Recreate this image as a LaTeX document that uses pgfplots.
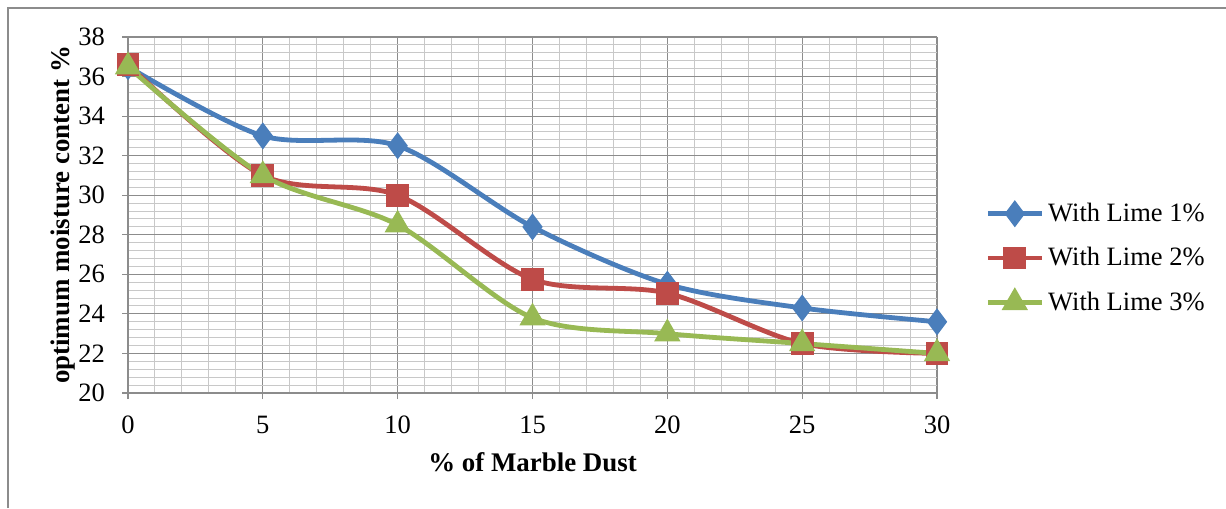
\documentclass[border=0pt]{standalone}
\usepackage{pgfplots}
\pgfplotsset{compat=1.18}
\usepackage{fontspec}
\setmainfont{Liberation Serif}
\definecolor{c1}{HTML}{4A7EBB}
\definecolor{c2}{HTML}{BE4B48}
\definecolor{c3}{HTML}{98B954}
\definecolor{majg}{HTML}{8C8C8C}
\definecolor{ming}{HTML}{C8C8C8}
\begin{document}
\begin{tikzpicture}[x=1bp,y=1bp]
\useasboundingbox (0,0) rectangle (613,254);
\draw[majg,line width=0.6bp] (4,0) -- (4,250) -- (613,250);
\begin{axis}[
  at={(64bp,57.5bp)}, anchor=origin,
  scale only axis, width=404.5bp, height=178bp,
  xmin=0, xmax=30, ymin=20, ymax=38,
  xtick={0,5,...,30}, ytick={20,22,...,38},
  minor xtick={0,1,...,30}, minor ytick={20,20.4,...,38},
  grid=both,
  major grid style={majg,line width=0.6bp},
  minor grid style={ming,line width=0.5bp},
  axis x line=bottom, axis y line=left,
  axis line style={majg,line width=0.6bp,-},
  tick align=outside, major tick length=3bp, minor tick length=0pt,
  tick style={majg,line width=0.6bp},
  /pgf/number format/assume math mode=true,
  ticklabel style={font=\fontsize{13.3}{15}\selectfont},
  yticklabel style={xshift=-5bp},
  xticklabel style={yshift=-5bp},
  xlabel={\textbf{\% of Marble Dust}},
  ylabel={\textbf{optimum moisture content \%}},
  label style={font=\fontsize{13.5}{15}\selectfont},
  xlabel style={yshift=-2.5bp},
  ylabel style={yshift=-5bp},
  legend style={at={(1,0.379)}, anchor=west, xshift=24bp, draw=none, fill=none,
    font=\fontsize{13.3}{15}\selectfont, row sep=7.5bp, inner sep=0pt,
    /tikz/every even column/.append style={column sep=0pt}},
  legend cell align=left,
  legend image code/.code={\draw[#1,mark repeat=2,mark phase=2] plot coordinates {(0bp,0bp) (13.5bp,0bp) (27bp,0bp)};},
  every axis plot/.append style={line width=2.4bp, smooth},
]
\addplot[c1, mark=diamond*, mark size=4.8bp, mark options={solid}] coordinates {
(0,36.5) (5,33.0) (10,32.5) (15,28.4) (20,25.5) (25,24.3) (30,23.6)};
\addlegendentry{With Lime 1\%}
\addplot[c2, mark=square*, mark size=4.5bp] coordinates {
(0,36.6) (5,31.0) (10,30.0) (15,25.75) (20,25.05) (25,22.5) (30,22.0)};
\addlegendentry{With Lime 2\%}
\addplot[c3, mark=triangle*, mark size=5.2bp] coordinates {
(0,36.5) (5,31.0) (10,28.5) (15,23.8) (20,23.0) (25,22.5) (30,22.0)};
\addlegendentry{With Lime 3\%}
\end{axis}
\end{tikzpicture}
\end{document}
